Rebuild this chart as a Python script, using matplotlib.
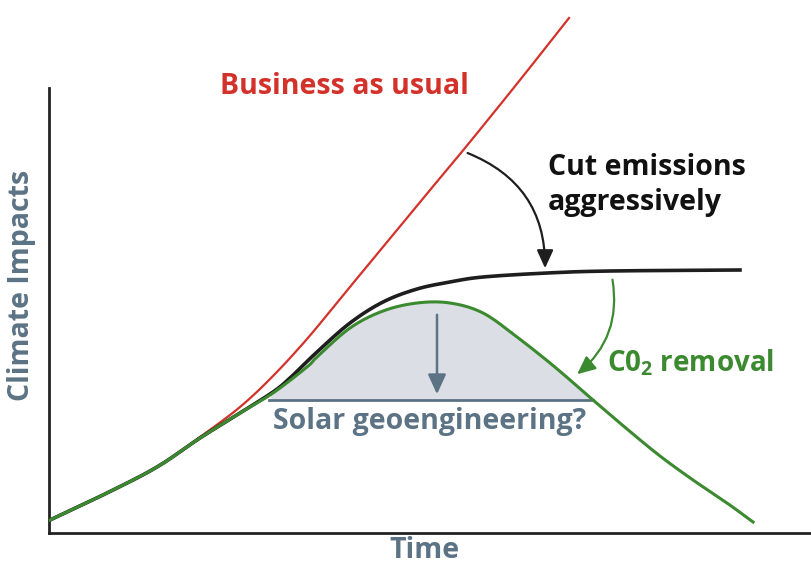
import numpy as np
import matplotlib.pyplot as plt
from matplotlib.patches import FancyArrowPatch

# values (time / impact, arbitrary units)
bau_t = [1, 58, 108, 151, 191, 224, 258, 291, 324, 371, 416, 471, 520]
bau_y = [13, 40, 66, 96, 126, 157, 194, 234, 274, 331, 385, 453, 515]

cut_t = [1, 58, 108, 151, 191, 224, 241, 268, 301, 334, 368, 401, 434, 498, 561, 691]
cut_y = [13, 40, 66, 95, 120, 141, 155, 181, 210, 231, 244, 251, 256, 260, 262, 263]

cdr_t = [1, 58, 108, 151, 191, 224, 258, 268, 301, 334, 368, 401, 434, 468,
         501, 528, 544, 578, 611, 644, 678, 704]
cdr_y = [13, 40, 66, 95, 120, 140, 166, 176, 205, 222, 230, 230, 220, 196,
         170, 147, 133, 104, 77, 53, 30, 11]

srm_base = 133
srm_start, srm_end = 220, 544

red = "#d3322b"
green = "#3b8a2f"
slate = "#5b7384"


def smooth(xs, ys, n=12):
    # Catmull-Rom curve through the read points (drawing only)
    p = np.column_stack([xs, ys]).astype(float)
    p = np.vstack([p[0], p, p[-1]])
    out = []
    for i in range(1, len(p) - 2):
        p0, p1, p2, p3 = p[i - 1], p[i], p[i + 1], p[i + 2]
        for s in np.linspace(0, 1, n, endpoint=False):
            out.append(0.5 * (2 * p1 + (-p0 + p2) * s
                              + (2 * p0 - 5 * p1 + 4 * p2 - p3) * s ** 2
                              + (-p0 + 3 * p1 - 3 * p2 + p3) * s ** 3))
    out.append(p[-2])
    out = np.array(out)
    return out[:, 0], out[:, 1]


plt.rcParams['font.family'] = ['Open Sans', 'DejaVu Sans']

fig = plt.figure(figsize=(8.11, 5.68), dpi=100)
ax = fig.add_axes([49 / 811, 35 / 568, 762 / 811, 533 / 568])
ax.set_xlim(0, 762)
ax.set_ylim(0, 533)

for s in ["top", "right"]:
    ax.spines[s].set_visible(False)
ax.spines["left"].set_bounds(0, 445)
for s in ["left", "bottom"]:
    ax.spines[s].set_linewidth(2)
    ax.spines[s].set_color("#222222")
ax.set_xticks([])
ax.set_yticks([])

# shaded area under CO2 removal curve
gx, gy = smooth(cdr_t, cdr_y)
m = (gx >= srm_start) & (gx <= srm_end)
ax.fill_between(gx, srm_base, gy, where=m & (gy >= srm_base),
                color="#dcdee6", zorder=1, lw=0)
ax.plot([srm_start, srm_end], [srm_base, srm_base], color=slate, lw=2, zorder=2)

rx, ry = smooth(bau_t, bau_y)
ax.plot(rx, ry, color=red, lw=1.6, zorder=3, clip_on=False)
bx, by = smooth(cut_t, cut_y)
ax.plot(bx, by, color="#1e1e1e", lw=2.6, zorder=3)
ax.plot(gx, gy, color=green, lw=2.2, zorder=4)

# arrows
ax.add_patch(FancyArrowPatch((416, 381), (496, 262),
                             connectionstyle="arc3,rad=-0.35",
                             arrowstyle="-|>,head_length=11,head_width=5",
                             color="#1e1e1e", lw=1.6, zorder=5))
ax.add_patch(FancyArrowPatch((563, 256), (526, 157),
                             connectionstyle="arc3,rad=-0.3",
                             arrowstyle="-|>,head_length=11,head_width=5",
                             color=green, lw=1.6, zorder=5))
ax.add_patch(FancyArrowPatch((388, 221), (388, 136),
                             arrowstyle="-|>,head_length=12,head_width=5.5",
                             color=slate, lw=1.8, zorder=5))

# labels
fs = 20.5
ax.text(295, 447, "Business as usual", color=red, fontsize=fs,
        fontweight="bold", ha="center", va="center")
ax.text(499, 348, "Cut emissions\naggressively", color="#111111", fontsize=fs,
        fontweight="bold", ha="left", va="center", linespacing=1.3)
ax.text(558, 170, r"C0$_\mathregular{2}$ removal", color=green, fontsize=20,
        fontweight="bold", ha="left", va="center")
ax.text(381, 112, "Solar geoengineering?", color=slate, fontsize=fs,
        fontweight="bold", ha="center", va="center")
ax.text(375, -18, "Time", color=slate, fontsize=fs, fontweight="bold",
        ha="center", va="center", clip_on=False)
ax.text(-27, 248, "Climate Impacts", color=slate, fontsize=fs,
        fontweight="bold", ha="center", va="center", rotation=90,
        clip_on=False)

fig.savefig("out.png", dpi=100)
